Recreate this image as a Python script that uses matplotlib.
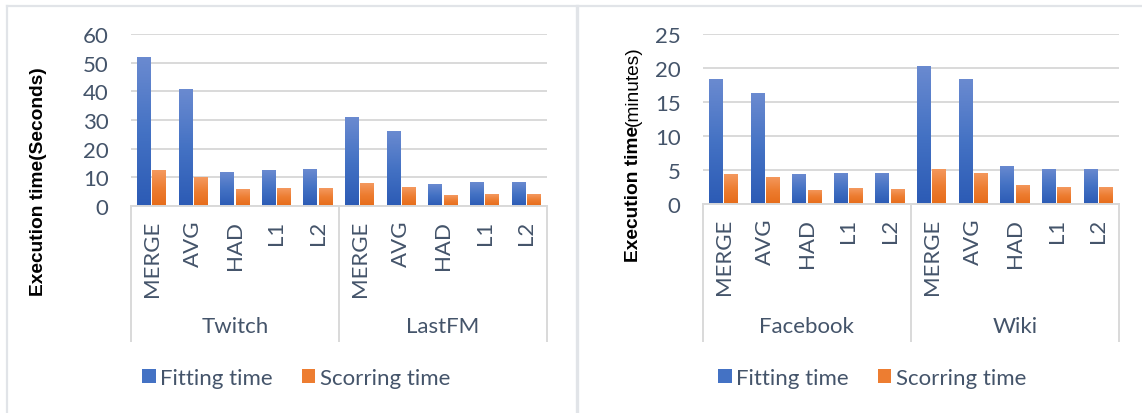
import numpy as np
import matplotlib
matplotlib.use('Agg')
import matplotlib.pyplot as plt
from matplotlib.colors import LinearSegmentedColormap
from matplotlib.patches import Patch
from matplotlib.lines import Line2D

# execution times, one value per method and dataset
methods = ['MERGE', 'AVG', 'HAD', 'L1', 'L2']

groups_sec = ['Twitch', 'LastFM']
fit_sec = [52.0, 40.8, 11.9, 12.6, 12.9,
           31.0, 26.2, 7.7, 8.4, 8.4]
score_sec = [12.6, 10.1, 5.9, 6.3, 6.3,
             8.0, 6.6, 3.8, 4.2, 4.2]

groups_min = ['Facebook', 'Wiki']
fit_min = [18.4, 16.3, 4.4, 4.6, 4.6,
           20.4, 18.4, 5.6, 5.2, 5.2]
score_min = [4.4, 4.0, 2.1, 2.35, 2.2,
             5.2, 4.6, 2.8, 2.5, 2.5]

W, H = 1142, 414
TXT = '#44546A'
GRID = '#D9D9D9'
FONT = 'Lato'
FS = 16

blue_cm = LinearSegmentedColormap.from_list('b', ['#2C5BB5', '#4472C4', '#6A8AD0'])
orange_cm = LinearSegmentedColormap.from_list('o', ['#E66C1A', '#ED7D31', '#F4995F'])
grad = np.linspace(0, 1, 64).reshape(-1, 1)


def gradient_bars(ax, x, heights, width, cmap):
    bars = ax.bar(x, heights, width, color='none', zorder=2)
    for b in bars:
        x0, w, h = b.get_x(), b.get_width(), b.get_height()
        im = ax.imshow(grad, extent=[x0, x0 + w, 0, h], origin='lower',
                       aspect='auto', cmap=cmap, zorder=2)
        im.set_clip_path(b)


def panel(rect, fit, score, groups, ymax, ystep, line_bot, grp_y):
    ax = fig.add_axes(rect)
    x = np.arange(len(fit))
    gradient_bars(ax, x - 0.185, fit, 0.33, blue_cm)
    gradient_bars(ax, x + 0.185, score, 0.33, orange_cm)
    ax.set_xlim(-0.5, len(fit) - 0.5)
    ax.set_ylim(0, ymax)
    ax.set_yticks(np.arange(0, ymax + 1, ystep))
    ax.set_xticks(x)
    ax.set_xticklabels(methods * 2, rotation=90)
    ax.tick_params(axis='both', length=0, labelsize=FS, labelcolor=TXT)
    ax.tick_params(axis='y', pad=16)
    ax.tick_params(axis='x', pad=10)
    for lab in ax.get_xticklabels() + ax.get_yticklabels():
        lab.set_family(FONT)
    for s in ax.spines.values():
        s.set_visible(False)
    ax.yaxis.grid(True, color=GRID, lw=1.4)
    ax.set_axisbelow(True)
    # category axis with group separators
    tr = ax.get_xaxis_transform()
    ax.plot([-0.5, len(fit) - 0.5], [0, 0], color=GRID, lw=1.4,
            transform=tr, clip_on=False, zorder=3)
    for xv in [-0.5, 4.5, 9.5]:
        ax.plot([xv, xv], [0, line_bot], color=GRID, lw=1.4,
                transform=tr, clip_on=False)
    for i, g in enumerate(groups):
        ax.text(2 + 5 * i, grp_y, g, transform=tr, ha='center', va='center',
                fontsize=FS, color=TXT, family=FONT)
    return ax


fig = plt.figure(figsize=(W / 100, H / 100), dpi=100)

# panel frames
frame = dict(color='#E1E4E8', lw=1.6, transform=fig.transFigure)
fig.add_artist(Line2D([7 / W, 1], [1 - 6.5 / H] * 2, **frame))
fig.add_artist(Line2D([7 / W] * 2, [0, 1 - 6.5 / H], **frame))
fig.add_artist(Line2D([577 / W] * 2, [0, 1 - 6.5 / H], lw=2.4, color='#E1E4E8',
                      transform=fig.transFigure))

panel([130.7 / W, (H - 206.7) / H, 416.3 / W, 171.4 / H],
      fit_sec, score_sec, groups_sec, 60, 10, -0.789, -0.702)
panel([702.7 / W, (H - 205) / H, 416.3 / W, 169.7 / H],
      fit_min, score_min, groups_min, 25, 5, -0.807, -0.717)

fig.text(39 / W, 1 - 182 / H, 'Execution time(Seconds)', rotation=90,
         ha='center', va='center', fontsize=13.8, fontweight='bold',
         family='Liberation Sans', color='black')

t1 = fig.text(633 / W, 1 - 262 / H, 'Execution time', rotation=90,
              ha='center', va='bottom', fontsize=13.8, fontweight='bold',
              family='Liberation Sans', color='black')
fig.canvas.draw()
bb = t1.get_window_extent()
fig.text(633 / W, bb.y1 / H, '(minutes)', rotation=90, ha='center',
         va='bottom', fontsize=13.8, family='Liberation Sans', color='black')

handles = [Patch(facecolor='#4472C4'), Patch(facecolor='#ED7D31')]
names = ['Fitting time', 'Scorring time']
for cx in [296, 872]:
    leg = fig.legend(handles, names, loc='center', ncol=2, frameon=False,
                     bbox_to_anchor=(cx / W, 1 - 379 / H),
                     handlelength=0.62, handleheight=0.62, handletextpad=0.2,
                     columnspacing=1.3, prop={'family': FONT, 'size': FS})
    for t in leg.get_texts():
        t.set_color(TXT)

fig.savefig('out.png', dpi=100)
